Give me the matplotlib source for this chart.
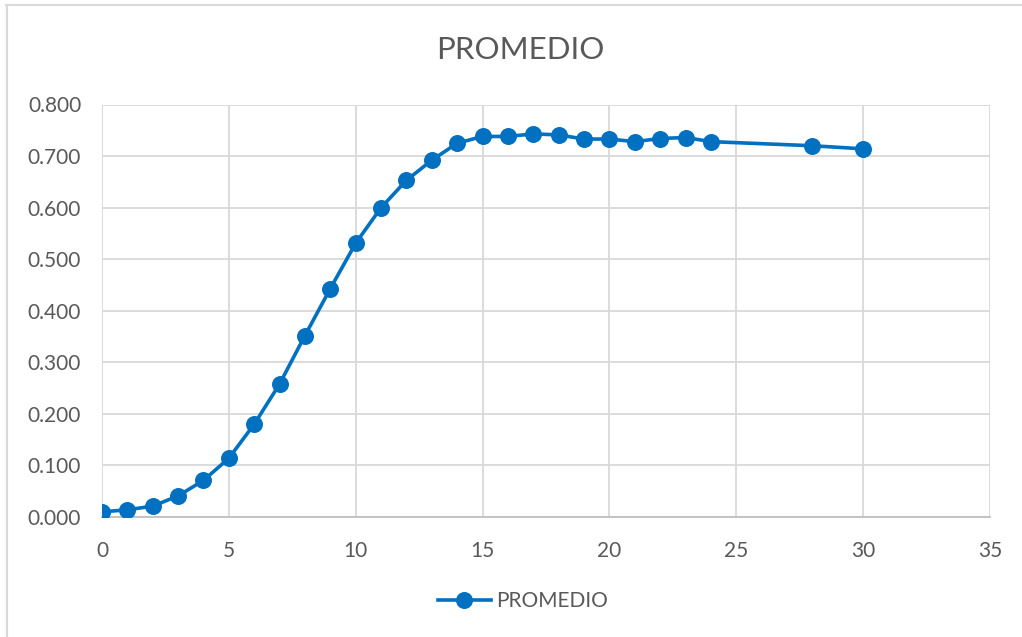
import matplotlib
matplotlib.use("Agg")
import matplotlib.pyplot as plt
from matplotlib.lines import Line2D

# Average value per step
dias = [0, 1, 2, 3, 4, 5, 6, 7, 8, 9, 10, 11, 12, 13, 14, 15, 16, 17, 18,
        19, 20, 21, 22, 23, 24, 28, 30]
promedio = [0.010, 0.014, 0.021, 0.041, 0.071, 0.114, 0.180, 0.258, 0.352,
            0.443, 0.531, 0.600, 0.653, 0.692, 0.725, 0.738, 0.738, 0.743,
            0.741, 0.733, 0.733, 0.728, 0.734, 0.736, 0.728, 0.720, 0.714]

x_ticks = [0, 5, 10, 15, 20, 25, 30, 35]
y_ticks = [0.0, 0.1, 0.2, 0.3, 0.4, 0.5, 0.6, 0.7, 0.8]

BLUE = "#0070C0"
GRID = "#D9D9D9"
TEXT = "#595959"

plt.rcParams["font.family"] = ["Lato", "DejaVu Sans"]

W, H = 1022, 637
fig = plt.figure(figsize=(W / 100, H / 100), dpi=100)
ax = fig.add_axes([102 / W, 1 - 517 / H, (990 - 102) / W, (517 - 104.5) / H])

ax.plot(dias, promedio, color=BLUE, lw=2.6, marker="o", ms=11.2,
        markerfacecolor=BLUE, markeredgecolor=BLUE, zorder=3,
        solid_capstyle="round", label="PROMEDIO")

ax.set_xlim(0, 35)
ax.set_ylim(0, 0.8)
ax.set_xticks(x_ticks)
ax.set_yticks(y_ticks)
ax.set_yticklabels([f"{v:.3f}" for v in y_ticks])
ax.grid(True, color=GRID, lw=1.3, zorder=0)
ax.set_axisbelow(True)
for side in ("top", "right", "left"):
    ax.spines[side].set_visible(False)
ax.spines["bottom"].set_color("#BFBFBF")
ax.spines["bottom"].set_linewidth(1.3)
ax.tick_params(length=0, labelsize=15, colors=TEXT)
ax.tick_params(axis="y", pad=15)
ax.tick_params(axis="x", pad=17)

fig.text(520 / W, 1 - 50 / H, "PROMEDIO", ha="center", va="center",
         fontsize=22.5, color=TEXT)

handle = Line2D([], [], color=BLUE, lw=2.6, marker="o", ms=11.2)
fig.legend([handle], ["PROMEDIO"], loc="center", bbox_to_anchor=(523 / W, 1 - 601 / H),
           frameon=False, fontsize=15, labelcolor=TEXT, handlelength=2.55,
           handletextpad=0.25)

# chart frame
fig.add_artist(Line2D([6 / W, 1021 / W], [1 - 5 / H, 1 - 5 / H], color=GRID, lw=1.5,
                      transform=fig.transFigure))
fig.add_artist(Line2D([7 / W, 7 / W], [1 - 5 / H, 0], color=GRID, lw=1.5,
                      transform=fig.transFigure))

fig.savefig("out.png", dpi=100)
